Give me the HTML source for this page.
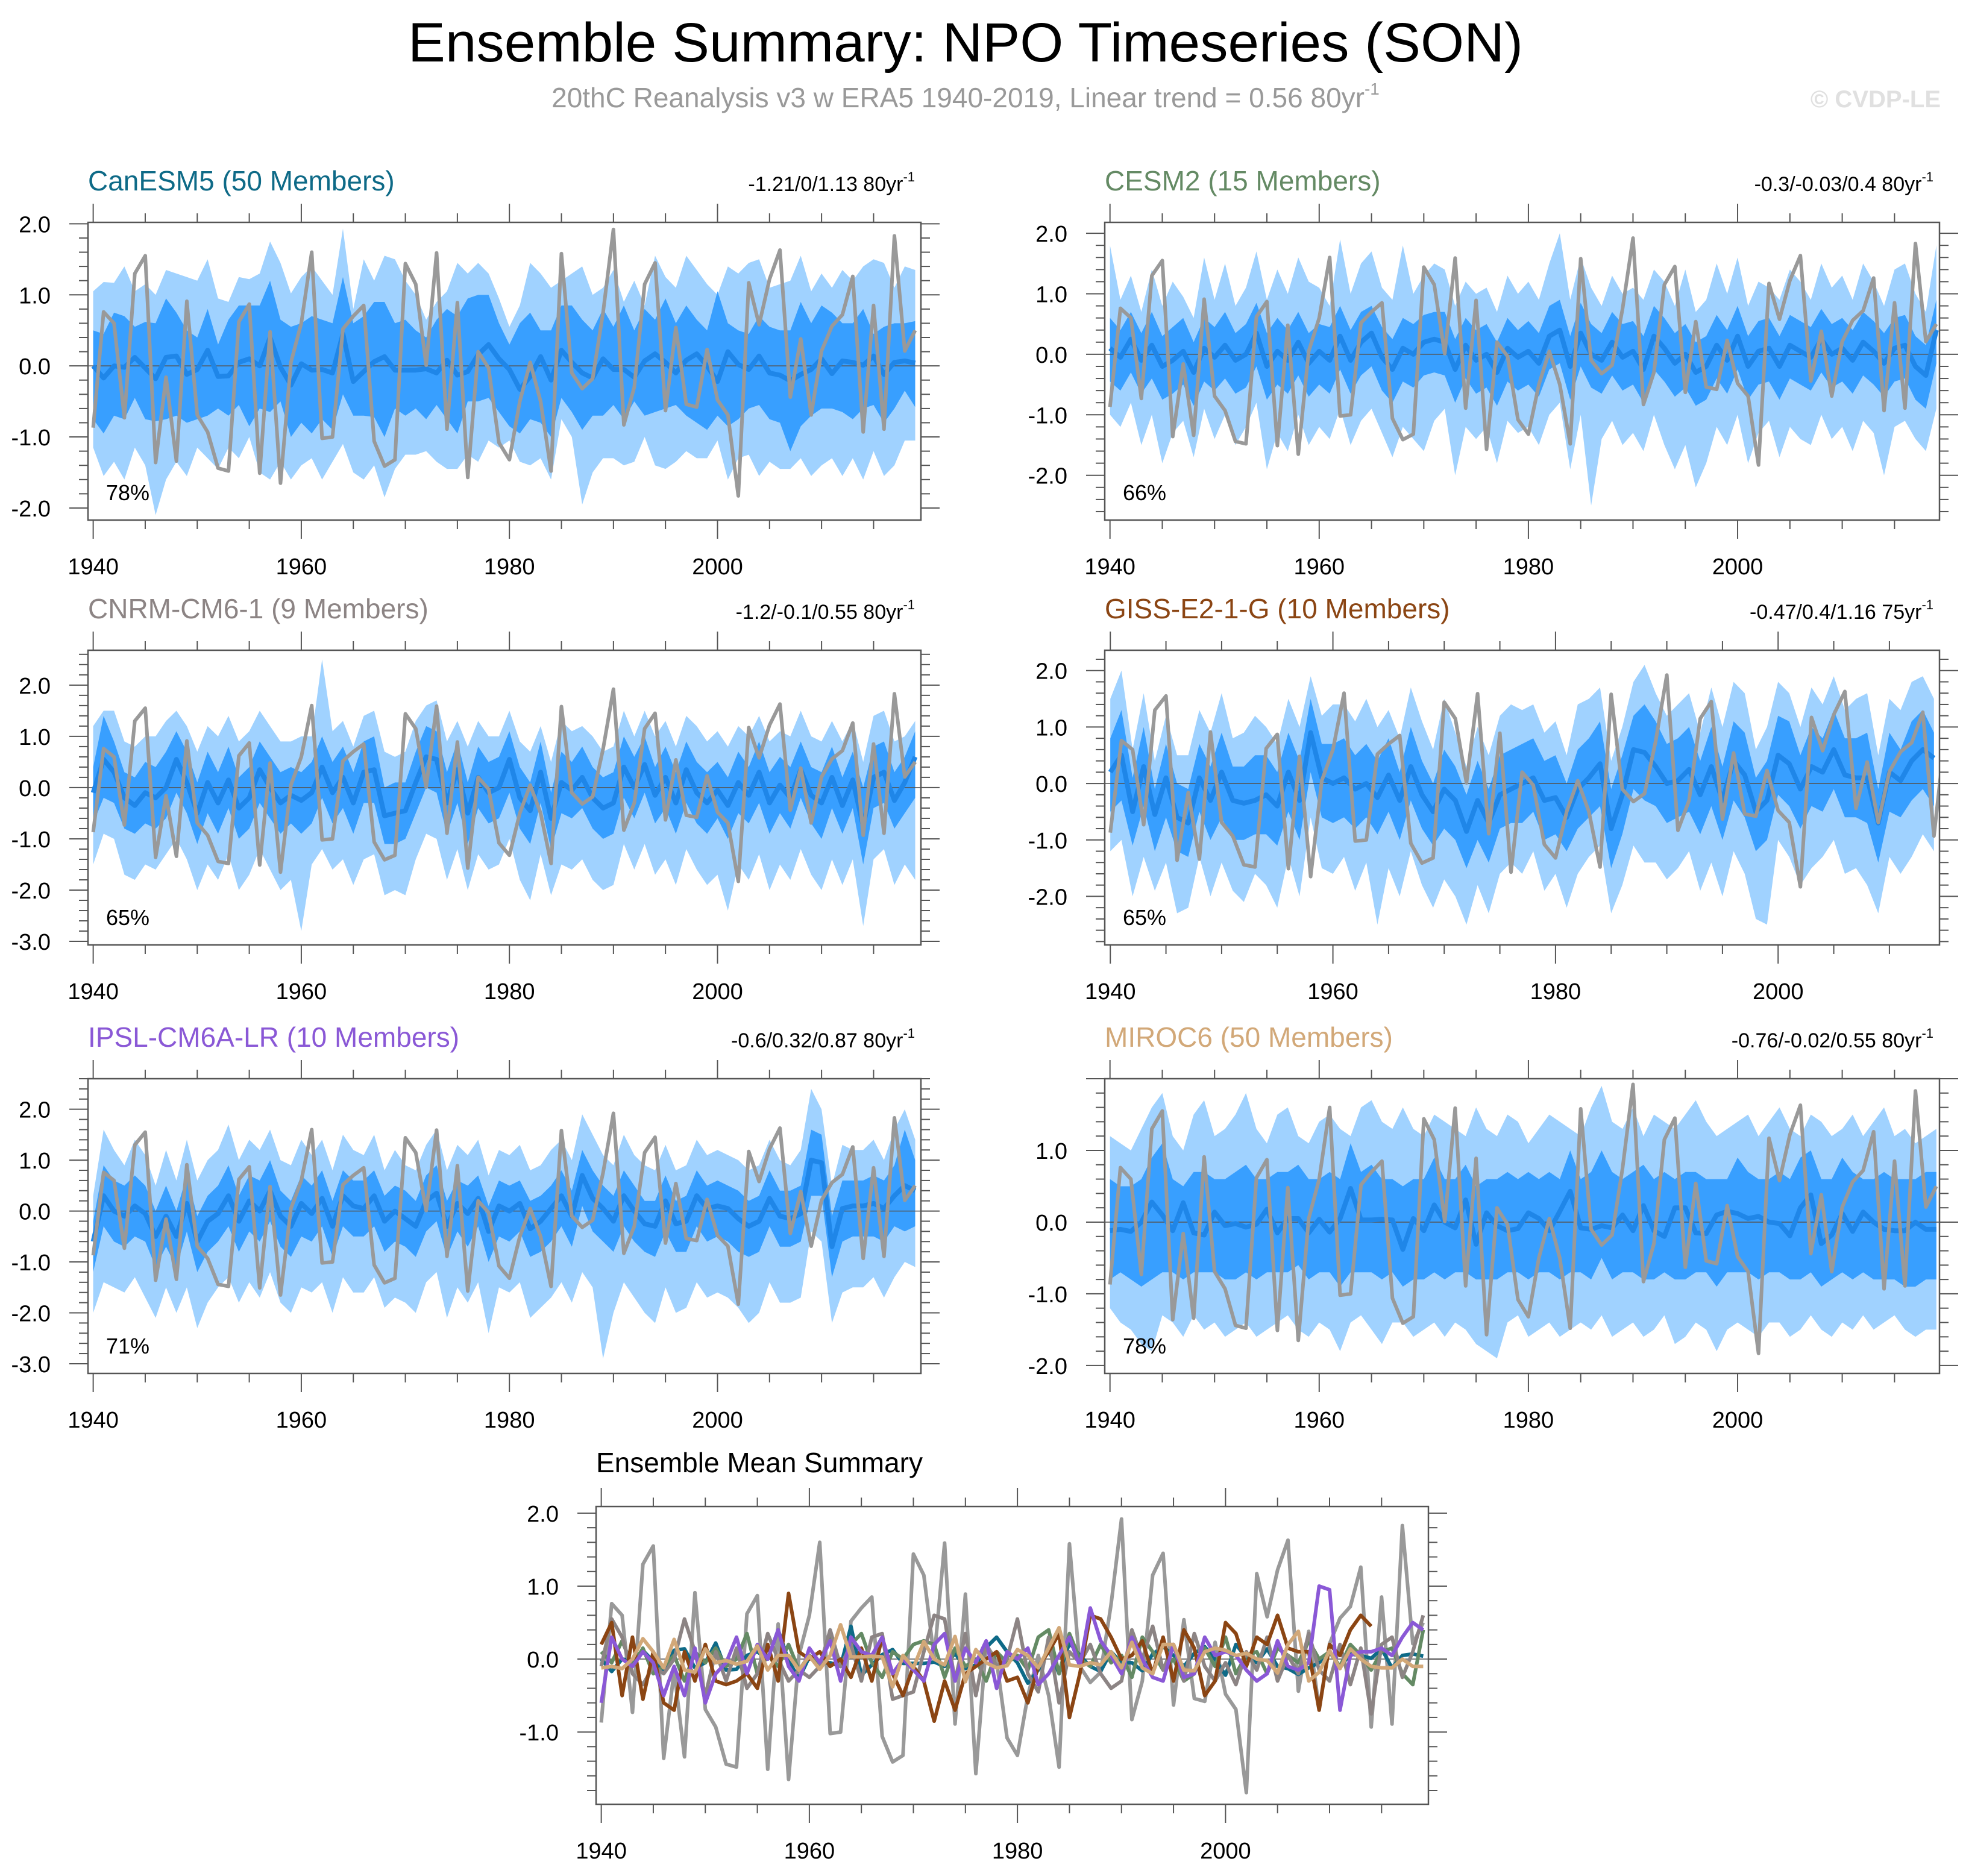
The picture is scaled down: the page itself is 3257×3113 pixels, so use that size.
<!DOCTYPE html>
<html><head><meta charset="utf-8"><title>Ensemble Summary: NPO Timeseries (SON)</title>
<style>
html,body{margin:0;padding:0;background:#fff;}
svg{display:block;font-family:"Liberation Sans",Arial,sans-serif;}
</style></head>
<body>
<svg id="chart" xmlns="http://www.w3.org/2000/svg" width="3257" height="3113" viewBox="0 0 3257 3113">
<rect width="3257" height="3113" fill="#fff"/>
<text x="1602" y="102" font-size="92" text-anchor="middle" fill="#000" textLength="1850" lengthAdjust="spacingAndGlyphs">Ensemble Summary: NPO Timeseries (SON)</text>
<text x="1602" y="178" font-size="46" text-anchor="middle" fill="#999">20thC Reanalysis v3 w ERA5 1940-2019, Linear trend = 0.56 80yr<tspan font-size="28" dy="-21">-1</tspan></text>
<text x="3220" y="178" font-size="40" font-weight="bold" text-anchor="end" fill="#e0e0e0">© CVDP-LE</text>
</svg>
<script>
// ---- data ----
const years = [];
for (let y = 1940; y <= 2019; y++) years.push(y);
const obs = [-0.87,0.76,0.60,-0.73,1.30,1.55,-1.36,-0.16,-1.34,0.91,
-0.69,-0.93,-1.44,-1.48,0.62,0.87,-1.51,0.48,-1.65,0.05,
0.6,1.60,-1.02,-1.0,0.52,0.7,0.85,-1.06,-1.41,-1.32,
1.44,1.15,0.01,1.59,-0.89,0.89,-1.57,0.2,-0.03,-1.08,
-1.32,-0.5,0.05,-0.5,-1.48,1.58,-0.1,-0.32,-0.18,0.75,
1.92,-0.83,-0.3,1.15,1.45,-0.63,0.54,-0.54,-0.58,0.23,
-0.48,-0.69,-1.83,1.17,0.58,1.22,1.63,-0.44,0.38,-0.69,
0.21,0.56,0.72,1.26,-0.93,0.85,-0.89,1.83,0.21,0.5];

const canMean = [0.0,-0.17,0.0,-0.02,0.12,-0.03,-0.18,0.12,0.14,-0.12,-0.05,0.22,-0.15,-0.14,0.05,0.1,0.0,0.4,-0.02,-0.27,0.03,-0.06,-0.05,-0.1,0.45,-0.22,-0.08,0.06,0.13,-0.06,-0.06,-0.06,-0.04,-0.1,0.08,-0.13,-0.08,0.16,0.3,0.1,-0.05,-0.33,-0.15,0.13,-0.2,0.22,0.05,-0.1,-0.17,0.1,-0.05,-0.05,-0.16,0.07,0.17,0.05,-0.1,0.08,0.17,0.0,-0.22,0.2,0.02,-0.05,0.14,-0.1,-0.13,-0.21,-0.12,-0.05,0.1,-0.11,0.07,0.05,0.01,0.14,-0.12,0.05,0.07,0.04];
const canOutUp = [1.05,1.18,1.17,1.4,1.05,1.15,1.0,1.35,1.3,1.25,1.2,1.5,0.95,0.9,1.25,1.22,1.3,1.75,1.45,1.02,1.25,1.4,1.2,1.0,1.93,0.8,1.5,1.2,1.55,1.5,1.2,1.0,0.65,0.9,1.05,1.45,1.3,1.45,1.3,0.95,0.55,0.85,1.45,1.3,1.1,1.2,1.3,1.4,1.0,1.1,1.35,0.9,1.2,0.85,1.55,1.25,1.1,1.55,1.35,1.15,1.0,1.4,1.3,1.45,1.5,1.1,1.15,1.2,1.55,1.05,1.3,1.1,1.35,1.2,1.4,1.5,1.45,1.1,1.4,1.35];
const canOutLo = [-1.15,-1.55,-1.35,-1.6,-1.15,-1.4,-2.1,-1.6,-1.35,-1.55,-1.15,-1.3,-1.45,-1.15,-1.3,-1.0,-1.5,-1.6,-1.35,-1.6,-1.4,-1.3,-1.6,-1.35,-1.1,-1.5,-1.6,-1.4,-1.85,-1.45,-1.25,-1.25,-1.2,-1.35,-1.45,-1.45,-1.25,-1.35,-1.05,-1.15,-1.05,-1.35,-1.4,-1.3,-1.6,-0.75,-1.0,-1.95,-1.5,-1.3,-1.3,-1.4,-1.35,-1.0,-1.4,-1.45,-1.35,-1.2,-1.3,-1.3,-1.05,-1.6,-1.3,-1.25,-1.55,-1.35,-1.45,-1.45,-1.3,-1.55,-1.4,-1.3,-1.55,-1.3,-1.6,-1.2,-1.55,-1.4,-1.05,-1.05];
const canInUp = [0.5,0.45,0.75,0.7,0.55,0.62,0.6,0.95,0.75,0.5,0.4,0.8,0.3,0.65,0.85,0.85,0.85,1.2,0.65,0.55,0.6,0.7,0.65,0.6,1.25,0.6,0.7,0.9,0.9,0.6,0.65,0.5,0.4,0.65,0.8,0.7,0.95,1.0,1.0,0.6,0.3,0.6,0.75,0.5,0.5,0.85,0.85,0.65,0.5,0.8,0.55,0.85,0.5,0.8,0.65,0.95,0.6,0.85,0.65,0.5,1.05,0.6,0.5,0.45,0.7,0.55,0.5,0.5,0.9,0.6,0.85,0.75,0.6,0.6,0.8,0.45,0.55,0.6,0.6,0.63];
const canInLo = [-0.75,-0.95,-0.7,-0.75,-0.45,-0.75,-0.78,-0.75,-0.7,-0.8,-0.75,-0.7,-0.6,-0.7,-0.55,-0.85,-0.6,-0.65,-0.5,-1.0,-0.8,-0.95,-0.75,-0.9,-0.4,-0.7,-0.7,-0.72,-1.0,-0.6,-0.7,-0.6,-0.75,-0.55,-0.75,-0.95,-0.5,-0.5,-0.45,-0.65,-0.85,-0.95,-0.75,-0.8,-1.0,-0.45,-0.65,-0.9,-0.7,-0.7,-0.55,-0.75,-0.5,-0.7,-0.65,-0.6,-0.55,-0.7,-0.8,-0.9,-0.7,-0.85,-0.75,-0.6,-0.55,-0.75,-0.8,-1.2,-0.85,-0.7,-0.6,-0.6,-0.65,-0.75,-0.6,-0.55,-0.8,-0.6,-0.35,-0.58];

const cesmMean = [0.1,-0.05,0.25,-0.1,0.15,-0.2,-0.1,0.05,-0.3,0.1,-0.05,0.15,-0.1,0.0,0.35,-0.2,0.05,-0.1,0.2,-0.15,0.05,-0.1,0.3,-0.1,0.2,0.35,-0.05,-0.25,0.1,0.0,0.2,0.25,0.2,-0.25,0.15,-0.1,0.0,-0.3,0.1,-0.05,0.05,-0.15,0.3,0.4,-0.2,0.35,0.0,-0.1,0.2,-0.05,0.05,-0.25,0.3,0.1,-0.15,0.0,-0.3,-0.2,0.15,-0.1,0.3,-0.2,0.05,0.1,-0.2,0.15,0.05,-0.05,0.25,0.0,0.1,-0.1,0.2,0.05,-0.15,0.1,0.15,-0.2,-0.35,0.4];
const cesmOutUp = [1.8,0.9,1.3,0.7,1.4,0.8,1.2,0.95,0.6,1.6,0.9,1.5,0.8,1.1,1.7,0.9,1.4,1.0,1.6,1.2,1.1,0.8,1.9,1.0,1.5,1.7,1.1,0.9,1.8,1.0,1.3,1.5,1.4,0.8,1.2,1.0,1.1,0.7,1.3,1.0,1.2,0.9,1.5,2.0,0.9,1.6,1.1,0.8,1.3,1.0,1.1,0.9,1.4,1.2,0.8,1.4,0.7,0.9,1.5,1.0,1.6,0.8,1.2,1.1,0.9,1.4,1.2,0.9,1.5,1.1,1.3,0.9,1.5,1.2,0.8,1.4,1.5,1.0,0.7,1.8];
const cesmOutLo = [-1.0,-1.2,-0.8,-1.5,-1.0,-1.8,-1.3,-1.1,-1.7,-0.9,-1.4,-1.0,-1.5,-1.2,-0.8,-1.9,-1.3,-1.6,-1.0,-1.5,-1.2,-1.4,-0.9,-1.5,-1.1,-0.9,-1.3,-1.7,-1.2,-1.4,-1.6,-1.1,-0.9,-2.0,-1.2,-1.4,-1.2,-1.8,-1.1,-1.3,-1.2,-1.5,-1.0,-0.8,-1.9,-1.0,-2.5,-1.4,-1.1,-1.5,-1.3,-1.6,-1.0,-1.5,-1.9,-1.5,-2.2,-1.8,-1.2,-1.5,-1.0,-1.8,-1.3,-1.1,-1.7,-1.2,-1.4,-1.5,-1.0,-1.4,-1.2,-1.6,-1.1,-1.3,-2.0,-1.2,-1.1,-1.4,-1.6,-0.9];
const cesmInUp = [0.6,0.4,0.7,0.35,0.7,0.3,0.45,0.6,0.2,0.6,0.45,0.7,0.35,0.5,0.85,0.35,0.6,0.4,0.7,0.35,0.5,0.45,0.8,0.4,0.7,0.8,0.45,0.25,0.6,0.5,0.65,0.7,0.7,0.25,0.6,0.4,0.5,0.2,0.6,0.4,0.55,0.35,0.8,0.9,0.3,0.85,0.5,0.35,0.7,0.5,0.55,0.3,0.8,0.6,0.35,0.5,0.2,0.3,0.65,0.4,0.8,0.3,0.55,0.6,0.3,0.65,0.55,0.45,0.75,0.5,0.6,0.4,0.7,0.55,0.35,0.6,0.65,0.3,0.15,0.9];
const cesmInLo = [-0.45,-0.6,-0.3,-0.65,-0.4,-0.75,-0.65,-0.5,-0.85,-0.45,-0.6,-0.4,-0.65,-0.55,-0.2,-0.75,-0.5,-0.65,-0.35,-0.7,-0.5,-0.65,-0.25,-0.65,-0.35,-0.2,-0.6,-0.8,-0.45,-0.55,-0.35,-0.3,-0.35,-0.8,-0.4,-0.65,-0.55,-0.85,-0.45,-0.6,-0.5,-0.7,-0.25,-0.15,-0.75,-0.2,-0.55,-0.65,-0.35,-0.6,-0.5,-0.8,-0.25,-0.45,-0.7,-0.55,-0.85,-0.75,-0.4,-0.65,-0.25,-0.75,-0.5,-0.45,-0.75,-0.4,-0.5,-0.6,-0.3,-0.55,-0.45,-0.65,-0.35,-0.5,-0.7,-0.45,-0.4,-0.75,-0.9,-0.15];

const cnrmMean = [-0.1,0.55,0.3,-0.2,-0.35,-0.1,-0.2,0.0,0.55,0.1,-0.5,0.1,-0.3,0.15,-0.4,-0.2,0.35,0.0,-0.3,-0.15,-0.25,-0.1,0.4,-0.1,0.2,-0.3,0.3,0.35,-0.55,-0.5,-0.45,0.1,0.6,0.55,-0.3,0.35,-0.5,0.2,-0.1,0.0,0.55,-0.2,-0.45,0.3,-0.6,0.1,-0.05,0.2,-0.2,-0.4,-0.3,0.4,0.0,0.45,-0.15,0.2,-0.3,0.35,-0.1,-0.3,-0.05,-0.35,0.1,-0.15,0.3,-0.3,0.05,-0.2,0.35,-0.15,-0.3,0.2,-0.35,0.15,-0.75,0.2,0.3,-0.25,0.1,0.6];
const cnrmOutUp = [1.2,1.5,1.5,0.9,0.8,1.0,1.0,1.3,1.5,1.2,0.7,1.2,1.0,1.4,0.9,1.1,1.5,1.2,0.9,0.9,1.0,1.0,2.5,1.1,1.3,0.8,1.4,1.5,0.7,0.6,0.7,1.3,1.6,1.7,0.9,1.3,0.8,1.3,1.0,1.0,1.5,0.9,0.7,1.2,0.5,1.3,1.1,1.2,1.0,0.7,0.8,1.5,1.0,1.5,1.0,1.3,0.8,1.4,1.2,0.9,1.1,0.8,1.2,1.0,1.4,0.9,1.1,1.0,1.5,1.0,0.9,1.3,0.9,1.3,0.5,1.4,1.5,0.9,1.0,1.3];
const cnrmOutLo = [-1.5,-0.9,-1.0,-1.7,-1.8,-1.5,-1.6,-1.3,-1.0,-1.4,-2.0,-1.5,-1.8,-1.3,-2.0,-1.7,-1.2,-1.6,-2.0,-1.8,-2.8,-1.5,-1.2,-1.6,-1.4,-1.9,-1.4,-1.3,-2.1,-2.0,-2.1,-1.4,-0.9,-1.0,-1.8,-1.2,-2.0,-1.3,-1.6,-1.5,-1.0,-1.8,-2.2,-1.3,-2.1,-1.5,-1.6,-1.4,-1.8,-2.0,-1.9,-1.1,-1.6,-1.1,-1.7,-1.4,-1.9,-1.2,-1.6,-1.9,-1.7,-2.4,-1.5,-1.8,-1.3,-2.0,-1.5,-1.8,-1.2,-1.7,-2.0,-1.4,-1.9,-1.4,-2.7,-1.4,-1.2,-1.9,-1.5,-1.8];
const cnrmInUp = [0.4,1.4,0.9,0.3,0.2,0.5,0.4,0.7,1.1,0.7,0.1,0.7,0.3,0.8,0.2,0.4,0.9,0.6,0.3,0.4,0.3,0.5,1.0,0.5,0.8,0.3,0.9,1.0,0.0,0.1,0.1,0.7,1.2,1.1,0.3,0.9,0.1,0.8,0.5,0.6,1.1,0.4,0.1,0.9,-0.1,0.7,0.5,0.8,0.4,0.2,0.3,1.0,0.6,1.0,0.4,0.8,0.3,0.9,0.5,0.3,0.5,0.2,0.7,0.4,0.9,0.3,0.6,0.4,0.9,0.4,0.3,0.8,0.2,0.7,0.0,0.8,0.9,0.3,0.6,1.1];
const cnrmInLo = [-0.7,-0.2,-0.3,-0.8,-0.9,-0.7,-0.8,-0.6,-0.1,-0.5,-1.1,-0.5,-0.9,-0.4,-1.0,-0.8,-0.3,-0.6,-0.9,-0.7,-0.9,-0.7,-0.2,-0.7,-0.4,-0.9,-0.3,-0.3,-1.1,-1.1,-1.0,-0.5,0.0,-0.1,-0.9,-0.3,-1.1,-0.4,-0.7,-0.6,-0.1,-0.8,-1.1,-0.3,-1.2,-0.5,-0.6,-0.4,-0.8,-1.0,-0.9,-0.2,-0.6,-0.1,-0.7,-0.4,-0.9,-0.3,-0.7,-0.9,-0.6,-1.0,-0.5,-0.7,-0.3,-0.9,-0.5,-0.8,-0.2,-0.7,-1.0,-0.4,-0.9,-0.4,-1.5,-0.4,-0.3,-0.8,-0.5,-0.2];

const gissMean = [0.2,0.5,-0.5,0.3,-0.55,0.1,-0.6,-0.7,0.1,-0.3,0.2,-0.3,-0.35,-0.3,-0.2,-0.4,0.2,-0.3,0.9,0.1,0.0,0.1,-0.1,0.0,-0.25,0.15,-0.3,0.3,-0.2,-0.5,-0.1,-0.3,-0.85,-0.3,-0.7,-0.2,-0.1,0.0,0.1,-0.3,-0.25,-0.6,-0.1,0.1,0.35,-0.8,-0.2,0.6,0.55,0.3,0.0,0.05,0.25,-0.2,0.3,-0.3,0.4,0.15,-0.5,-0.3,0.5,0.35,-0.1,0.3,0.2,0.6,0.15,0.1,0.1,-0.7,0.2,0.05,0.4,0.6,0.45];
const gissOutUp = [1.5,2.0,0.6,1.6,0.4,1.2,0.5,0.5,1.3,0.9,1.6,0.8,0.9,1.2,1.0,0.7,1.5,1.0,1.9,1.2,1.4,1.4,1.1,1.5,1.0,1.3,0.8,1.7,1.1,0.6,1.5,0.9,0.3,1.0,0.5,1.2,1.4,1.3,1.4,0.9,1.1,0.5,1.4,1.5,1.7,0.4,1.0,1.8,2.1,1.6,1.2,1.4,1.6,0.9,1.7,1.0,1.8,1.6,0.6,1.0,1.8,1.6,1.0,1.7,1.4,1.9,1.3,1.5,1.6,0.5,1.5,1.3,1.8,1.9,1.5];
const gissOutLo = [-1.2,-1.0,-2.0,-1.3,-1.9,-1.4,-2.3,-2.2,-1.3,-2.0,-1.4,-1.9,-2.1,-1.6,-1.8,-2.2,-1.3,-2.0,-0.6,-1.5,-1.6,-1.3,-1.9,-1.4,-2.5,-1.5,-2.0,-1.2,-1.8,-2.2,-1.7,-2.0,-2.5,-1.8,-2.3,-1.6,-1.4,-1.6,-1.2,-1.9,-1.6,-2.2,-1.6,-1.3,-1.1,-2.3,-1.8,-1.1,-1.4,-1.4,-1.7,-1.5,-1.2,-1.9,-1.4,-2.0,-1.2,-1.6,-2.4,-2.5,-1.0,-1.3,-1.8,-1.5,-1.3,-1.0,-1.6,-1.5,-1.8,-2.3,-1.3,-1.6,-1.3,-0.9,-1.2];
const gissInUp = [0.8,1.3,0.1,1.0,-0.1,0.7,0.0,-0.1,0.7,0.3,0.9,0.3,0.3,0.5,0.5,0.2,0.9,0.4,1.5,0.7,0.7,0.8,0.5,0.7,0.4,0.8,0.2,1.0,0.4,0.0,0.6,0.3,-0.2,0.4,-0.1,0.5,0.6,0.7,0.8,0.4,0.5,0.0,0.6,0.8,1.1,-0.1,0.5,1.2,1.4,1.1,0.7,0.8,1.0,0.4,1.0,0.3,1.1,0.9,0.1,0.4,1.2,1.1,0.5,1.0,0.8,1.3,0.8,0.8,0.9,-0.1,0.9,0.6,1.1,1.3,0.9];
const gissInLo = [-0.5,-0.3,-1.1,-0.4,-1.2,-0.6,-1.2,-1.3,-0.5,-1.0,-0.6,-1.0,-1.0,-0.9,-0.9,-1.1,-0.5,-1.0,0.2,-0.6,-0.7,-0.6,-0.8,-0.6,-0.9,-0.5,-1.0,-0.3,-0.8,-1.1,-0.8,-1.0,-1.5,-1.0,-1.4,-0.8,-0.7,-0.7,-0.5,-1.0,-0.9,-1.2,-0.8,-0.6,-0.4,-1.5,-0.9,-0.1,-0.3,-0.4,-0.7,-0.6,-0.5,-0.9,-0.4,-1.0,-0.3,-0.6,-1.2,-1.0,-0.2,-0.4,-0.8,-0.4,-0.5,-0.1,-0.6,-0.6,-0.7,-1.4,-0.5,-0.6,-0.3,-0.1,-0.4];

const ipslMean = [-0.6,0.3,0.0,-0.1,0.1,-0.05,-0.5,-0.1,-0.5,0.15,-0.6,-0.2,-0.05,0.3,-0.2,0.2,0.0,0.4,-0.1,-0.3,0.15,-0.05,0.25,-0.3,0.3,0.1,0.05,0.3,-0.2,0.0,-0.15,-0.3,0.2,0.35,-0.3,0.15,-0.05,0.25,-0.4,0.1,0.0,0.15,-0.35,-0.2,0.05,0.3,-0.1,0.7,0.25,0.05,-0.2,0.3,0.0,-0.25,-0.3,0.2,-0.25,-0.2,0.3,0.05,0.1,0.05,-0.15,-0.3,-0.2,0.25,-0.1,-0.15,-0.05,1.0,0.95,-0.7,0.05,0.1,0.1,0.15,0.05,0.3,0.5,0.4];
const ipslOutUp = [0.3,1.6,1.2,0.9,1.4,1.1,0.5,1.2,0.6,1.4,0.6,1.0,1.2,1.7,1.0,1.4,1.2,1.6,1.0,0.9,1.4,1.1,1.4,0.8,1.5,1.2,1.1,1.5,0.8,1.2,0.9,0.8,1.3,1.6,0.8,1.3,1.1,1.4,0.7,1.2,1.1,1.3,0.8,0.9,1.2,1.4,1.0,1.9,1.5,1.1,0.9,1.5,1.1,0.9,0.8,1.3,0.8,0.9,1.4,1.1,1.2,1.1,1.0,0.8,0.9,1.4,1.0,0.9,1.2,2.4,2.0,0.5,1.3,1.2,1.2,1.4,1.0,1.6,2.0,1.4];
const ipslOutLo = [-2.0,-1.4,-1.5,-1.6,-1.3,-1.7,-2.1,-1.5,-2.0,-1.5,-2.3,-1.8,-1.5,-1.3,-1.8,-1.4,-1.7,-1.2,-1.8,-2.0,-1.5,-1.6,-1.4,-2.0,-1.3,-1.6,-1.6,-1.3,-1.9,-1.7,-1.8,-2.0,-1.4,-1.2,-2.1,-1.5,-1.8,-1.4,-2.4,-1.5,-1.6,-1.4,-2.1,-1.9,-1.7,-1.4,-1.8,-1.2,-1.5,-2.9,-2.0,-1.4,-1.7,-2.0,-2.2,-1.5,-2.0,-1.9,-1.4,-1.7,-1.6,-1.7,-1.9,-2.2,-2.0,-1.4,-1.8,-1.8,-1.7,-0.4,-0.6,-2.2,-1.6,-1.5,-1.5,-1.3,-1.7,-1.3,-1.0,-1.1];
const ipslInUp = [-0.2,0.9,0.6,0.5,0.7,0.5,0.0,0.5,0.0,0.7,-0.1,0.3,0.5,0.9,0.3,0.7,0.6,1.0,0.4,0.2,0.7,0.5,0.8,0.2,0.8,0.6,0.6,0.8,0.3,0.5,0.4,0.2,0.7,0.9,0.2,0.6,0.5,0.7,0.1,0.6,0.5,0.6,0.2,0.3,0.5,0.8,0.4,1.2,0.8,0.5,0.3,0.8,0.5,0.2,0.2,0.7,0.2,0.3,0.8,0.5,0.6,0.5,0.4,0.2,0.3,0.8,0.4,0.4,0.5,1.6,1.5,-0.1,0.6,0.6,0.6,0.7,0.6,0.9,1.6,1.0];
const ipslInLo = [-1.2,-0.3,-0.6,-0.7,-0.5,-0.6,-1.1,-0.7,-1.1,-0.4,-1.2,-0.8,-0.6,-0.3,-0.8,-0.4,-0.6,-0.2,-0.7,-0.9,-0.5,-0.6,-0.3,-0.9,-0.3,-0.5,-0.5,-0.3,-0.8,-0.6,-0.7,-0.9,-0.4,-0.2,-0.9,-0.4,-0.7,-0.3,-1.0,-0.5,-0.6,-0.4,-0.9,-0.8,-0.6,-0.3,-0.7,0.1,-0.4,-0.6,-0.8,-0.3,-0.6,-0.8,-0.9,-0.4,-0.8,-0.8,-0.3,-0.6,-0.5,-0.6,-0.8,-0.9,-0.8,-0.3,-0.7,-0.7,-0.6,0.3,0.3,-1.3,-0.6,-0.5,-0.5,-0.5,-0.6,-0.3,-0.4,-0.3];

const mirocMean = [-0.12,-0.1,-0.13,0.0,0.28,0.1,-0.12,0.27,-0.15,-0.18,0.14,-0.05,-0.02,-0.07,-0.03,0.18,-0.15,0.05,0.05,-0.15,0.04,-0.14,0.05,0.47,0.03,0.03,0.04,0.03,-0.38,0.05,-0.12,0.24,0.0,-0.08,0.31,-0.31,0.13,-0.05,-0.12,-0.09,0.13,0.05,-0.12,0.15,0.43,-0.08,-0.1,-0.05,-0.08,0.1,-0.12,0.23,-0.12,-0.2,0.2,0.2,-0.15,-0.16,0.1,0.15,0.12,0.05,0.08,0.0,-0.02,-0.19,0.2,0.38,-0.3,-0.18,0.12,-0.13,0.14,0.0,-0.1,-0.12,-0.12,0.0,-0.1,-0.1];
const mirocOutUp = [1.2,1.1,1.0,1.3,1.6,1.8,1.2,1.0,1.5,1.7,1.2,1.3,1.5,1.8,1.3,1.1,1.5,1.6,1.2,1.1,1.4,1.5,1.3,1.2,1.6,1.7,1.4,1.3,1.6,1.3,1.2,1.5,1.4,1.3,1.2,1.6,1.3,1.2,1.5,1.4,1.1,1.3,1.5,1.4,1.3,1.2,1.6,1.9,1.4,1.3,1.6,1.2,1.5,1.4,1.3,1.5,1.7,1.4,1.2,1.3,1.4,1.5,1.2,1.4,1.6,1.3,1.2,1.5,1.4,1.2,1.3,1.5,1.2,1.4,1.6,1.2,1.3,1.1,1.2,1.3];
const mirocOutLo = [-1.2,-1.4,-1.5,-1.7,-1.8,-1.3,-1.4,-1.6,-1.3,-1.5,-1.4,-1.6,-1.5,-1.4,-1.6,-1.5,-1.4,-1.3,-1.5,-1.6,-1.4,-1.5,-1.8,-1.4,-1.3,-1.5,-1.7,-1.4,-1.4,-1.6,-1.5,-1.4,-1.6,-1.4,-1.5,-1.7,-1.8,-1.9,-1.4,-1.3,-1.6,-1.5,-1.4,-1.6,-1.5,-1.4,-1.5,-1.3,-1.6,-1.5,-1.4,-1.6,-1.5,-1.3,-1.7,-1.6,-1.4,-1.5,-1.8,-1.5,-1.4,-1.5,-1.6,-1.4,-1.4,-1.6,-1.5,-1.3,-1.5,-1.6,-1.4,-1.5,-1.3,-1.5,-1.4,-1.3,-1.5,-1.6,-1.5,-1.5];
const mirocInUp = [0.6,0.5,0.5,0.6,0.9,1.1,0.6,0.5,0.7,0.7,0.6,0.6,0.7,0.8,0.6,0.6,0.7,0.7,0.8,0.6,0.6,0.7,0.6,1.1,0.7,0.8,0.6,0.6,0.5,0.6,0.6,0.9,0.6,0.6,0.8,0.5,0.6,0.6,0.7,0.6,0.7,0.6,0.7,0.6,1.0,0.6,0.7,1.0,0.7,0.6,0.7,0.8,0.6,0.7,0.6,0.7,0.7,0.6,0.6,0.6,0.9,0.7,0.6,0.6,0.7,0.6,0.9,1.0,0.6,0.6,0.9,0.7,0.6,0.6,0.7,0.6,0.6,0.6,0.7,0.7];
const mirocInLo = [-0.8,-0.7,-0.8,-0.9,-0.8,-0.7,-0.7,-0.8,-0.7,-0.7,-0.7,-0.8,-0.8,-0.7,-0.8,-0.7,-0.7,-0.7,-0.6,-0.8,-0.7,-0.7,-0.9,-0.7,-0.7,-0.7,-0.8,-0.7,-0.9,-0.8,-0.8,-0.7,-0.8,-0.7,-0.7,-0.8,-0.8,-0.8,-0.7,-0.7,-0.8,-0.7,-0.7,-0.8,-0.7,-0.7,-0.8,-0.5,-0.8,-0.7,-0.7,-0.8,-0.8,-0.7,-0.8,-0.8,-0.7,-0.7,-0.9,-0.7,-0.7,-0.7,-0.8,-0.7,-0.7,-0.8,-0.8,-0.7,-0.9,-0.8,-0.7,-0.8,-0.7,-0.8,-0.8,-0.8,-0.9,-0.9,-0.8,-0.8];

const xMajorTicks = [1940, 1960, 1980, 2000];
const xMinorStep = 5;

// ---- layout ----
const NS = 'http://www.w3.org/2000/svg';
const svg = document.getElementById('chart');
function mk(tag, attrs, parent) {
  const e = document.createElementNS(NS, tag);
  for (const k in attrs) e.setAttribute(k, attrs[k]);
  (parent || svg).appendChild(e);
  return e;
}
const COL_OUT = '#a0d2ff', COL_IN = '#389fff', COL_MEAN = '#1f86e8', COL_OBS = '#999999';

const panels = [
  {key:'canesm5', title:'CanESM5 (50 Members)', color:'#0e6a87', trend:'-1.21/0/1.13 80yr', pct:'78%', x0:146, x1:1528, y0:369, y1:863, ymin:-2.17, ymax:2.02, xmax:2019.55, yt:[2,1,0,-1,-2], mean:canMean, ou:canOutUp, ol:canOutLo, iu:canInUp, il:canInLo},
  {key:'cesm2', title:'CESM2 (15 Members)', color:'#648a64', trend:'-0.3/-0.03/0.4 80yr', pct:'66%', x0:1833, x1:3218, y0:369, y1:863, ymin:-2.74, ymax:2.18, xmax:2019.3, yt:[2,1,0,-1,-2], mean:cesmMean, ou:cesmOutUp, ol:cesmOutLo, iu:cesmInUp, il:cesmInLo},
  {key:'cnrm-cm6-1', title:'CNRM-CM6-1 (9 Members)', color:'#8c8484', trend:'-1.2/-0.1/0.55 80yr', pct:'65%', x0:146, x1:1528, y0:1079, y1:1568, ymin:-3.07, ymax:2.68, xmax:2019.55, yt:[2,1,0,-1,-2,-3], mean:cnrmMean, ou:cnrmOutUp, ol:cnrmOutLo, iu:cnrmInUp, il:cnrmInLo},
  {key:'giss-e2-1-g', title:'GISS-E2-1-G (10 Members)', color:'#8b4513', trend:'-0.47/0.4/1.16 75yr', pct:'65%', x0:1833, x1:3218, y0:1079, y1:1568, ymin:-2.86, ymax:2.36, xmax:2014.5, yt:[2,1,0,-1,-2], mean:gissMean, ou:gissOutUp, ol:gissOutLo, iu:gissInUp, il:gissInLo},
  {key:'ipsl-cm6a-lr', title:'IPSL-CM6A-LR (10 Members)', color:'#8a58d6', trend:'-0.6/0.32/0.87 80yr', pct:'71%', x0:146, x1:1528, y0:1790, y1:2279, ymin:-3.19, ymax:2.6, xmax:2019.55, yt:[2,1,0,-1,-2,-3], mean:ipslMean, ou:ipslOutUp, ol:ipslOutLo, iu:ipslInUp, il:ipslInLo},
  {key:'miroc6', title:'MIROC6 (50 Members)', color:'#d2a878', trend:'-0.76/-0.02/0.55 80yr', pct:'78%', x0:1833, x1:3218, y0:1790, y1:2279, ymin:-2.11, ymax:2.0, xmax:2019.3, yt:[1,0,-1,-2], mean:mirocMean, ou:mirocOutUp, ol:mirocOutLo, iu:mirocInUp, il:mirocInLo}
];
const XMIN = 1939.5;

function axes(p, xmax) {
  const sx = v => p.x0 + (v - XMIN) / (xmax - XMIN) * (p.x1 - p.x0);
  const sy = v => p.y1 - (v - p.ymin) / (p.ymax - p.ymin) * (p.y1 - p.y0);
  return {sx, sy};
}

function drawFrame(p, g, sx, sy, yticks) {
  for (let yr = 1940; yr <= p.xmaxEff; yr += xMinorStep) {
    const major = (yr - 1940) % 20 === 0;
    const L = major ? 31 : 15;
    const x = sx(yr);
    const t = mk('line', {x1:x, x2:x, y1:p.y1, y2:p.y1 + L, stroke:'#555', 'stroke-width':2}, g);
    
    
    const t2 = mk('line', {x1:x, x2:x, y1:p.y0, y2:p.y0 - L, stroke:'#555', 'stroke-width':2}, g);
    
    
  }
  const lo = Math.ceil(p.ymin * 5 - 1e-6), hi = Math.floor(p.ymax * 5 + 1e-6);
  for (let k = lo; k <= hi; k++) {
    const v = k / 5;
    const major = k % 5 === 0;
    const L = major ? 31 : 15;
    const y = sy(v);
    const t = mk('line', {x1:p.x0 - L, x2:p.x0, y1:y, y2:y, stroke:'#555', 'stroke-width':2}, g);
    
    
    const t2 = mk('line', {x1:p.x1, x2:p.x1 + L, y1:y, y2:y, stroke:'#555', 'stroke-width':2}, g);
    
    
  }
  yticks.forEach(v => {
    const t = mk('text', {x:p.x0 - 62, y:sy(v) + 14, 'font-size':38, 'text-anchor':'end', fill:'#000'}, g);
    t.textContent = v.toFixed(1);
    
    
  });
  xMajorTicks.forEach(yr => {
    const t = mk('text', {x:sx(yr), y:p.y1 + 90, 'font-size':38, 'text-anchor':'middle', fill:'#000'}, g);
    t.textContent = String(yr);
    
    
  });
}

function linePath(vals, sx, sy) {
  let d = '';
  vals.forEach((v, i) => { d += (i ? 'L' : 'M') + sx(years[i]).toFixed(1) + ' ' + sy(v).toFixed(1); });
  return d;
}
function bandPath(up, lo, sx, sy) {
  let d = '';
  up.forEach((v, i) => { d += (i ? 'L' : 'M') + sx(years[i]).toFixed(1) + ' ' + sy(v).toFixed(1); });
  for (let i = lo.length - 1; i >= 0; i--) d += 'L' + sx(years[i]).toFixed(1) + ' ' + sy(lo[i]).toFixed(1);
  return d + 'Z';
}

const defs = mk('defs', {});
panels.forEach(p => {
  p.xmaxEff = p.xmax;
  const {sx, sy} = axes(p, p.xmax);
  const g = mk('g', {});
  
  
  const cp = mk('clipPath', {id:'clip-' + p.key}, defs);
  mk('rect', {x:p.x0, y:p.y0, width:p.x1 - p.x0, height:p.y1 - p.y0}, cp);
  const title = mk('text', {x:p.x0, y:p.y0 - 53, 'font-size':46, fill:p.color}, g);
  title.textContent = p.title;
  
  
  const tr = mk('text', {x:p.x1 - 10, y:p.y0 - 52, 'font-size':34, 'text-anchor':'end', fill:'#000'}, g);
  tr.textContent = p.trend;
  const sup = mk('tspan', {'font-size':22, dy:-16}, tr);
  sup.textContent = '-1';
  
  
  const plot = mk('g', {'clip-path':'url(#clip-' + p.key + ')'}, g);
  const ob = mk('path', {d:bandPath(p.ou, p.ol, sx, sy), fill:COL_OUT}, plot);
  
  
  const ib = mk('path', {d:bandPath(p.iu, p.il, sx, sy), fill:COL_IN}, plot);
  
  
  const z = mk('line', {x1:p.x0, x2:p.x1, y1:sy(0), y2:sy(0), stroke:'#555', 'stroke-width':1.5}, plot);
  
  
  const ml = mk('path', {d:linePath(p.mean, sx, sy), fill:'none', stroke:COL_MEAN, 'stroke-width':8, 'stroke-linejoin':'round'}, plot);
  
  
  const ol = mk('path', {d:linePath(obs, sx, sy), fill:'none', stroke:COL_OBS, 'stroke-width':6, 'stroke-linejoin':'round'}, plot);
  
  
  const box = mk('rect', {x:p.x0, y:p.y0, width:p.x1 - p.x0, height:p.y1 - p.y0, fill:'none', stroke:'#555', 'stroke-width':2.5}, g);
  
  
  const pc = mk('text', {x:p.x0 + 30, y:p.y1 - 33, 'font-size':36, fill:'#000'}, g);
  pc.textContent = p.pct;
  
  
  drawFrame(p, g, sx, sy, p.yt);
});

// ---- bottom summary panel ----
const sumSeries = [
  {key:'canesm5', vals:canMean, color:'#0e6a87'},
  {key:'cesm2', vals:cesmMean, color:'#648a64'},
  {key:'cnrm-cm6-1', vals:cnrmMean, color:'#8c8484'},
  {key:'giss-e2-1-g', vals:gissMean, color:'#8b4513'},
  {key:'ipsl-cm6a-lr', vals:ipslMean, color:'#8a58d6'},
  {key:'miroc6', vals:mirocMean, color:'#d2a878'}
];
(function(){
  const p = {key:'summary', x0:989, x1:2370, y0:2500, y1:2994, ymin:-1.99, ymax:2.09, xmax:2019.5};
  p.xmaxEff = p.xmax;
  const {sx, sy} = axes(p, p.xmax);
  const g = mk('g', {});
  
  
  const cp = mk('clipPath', {id:'clip-summary'}, defs);
  mk('rect', {x:p.x0, y:p.y0, width:p.x1 - p.x0, height:p.y1 - p.y0}, cp);
  const title = mk('text', {x:p.x0, y:p.y0 - 57, 'font-size':46, fill:'#000'}, g);
  title.textContent = 'Ensemble Mean Summary';
  
  
  const plot = mk('g', {'clip-path':'url(#clip-summary)'}, g);
  const z = mk('line', {x1:p.x0, x2:p.x1, y1:sy(0), y2:sy(0), stroke:'#555', 'stroke-width':1.5}, plot);
  
  
  const ol = mk('path', {d:linePath(obs, sx, sy), fill:'none', stroke:COL_OBS, 'stroke-width':6, 'stroke-linejoin':'round'}, plot);
  
  
  sumSeries.forEach(s => {
    const l = mk('path', {d:linePath(s.vals, sx, sy), fill:'none', stroke:s.color, 'stroke-width':6, 'stroke-linejoin':'round'}, plot);
    
    
  });
  const box = mk('rect', {x:p.x0, y:p.y0, width:p.x1 - p.x0, height:p.y1 - p.y0, fill:'none', stroke:'#555', 'stroke-width':2.5}, g);
  
  
  drawFrame(p, g, sx, sy, [2,1,0,-1]);
})();
</script>
</body></html>
